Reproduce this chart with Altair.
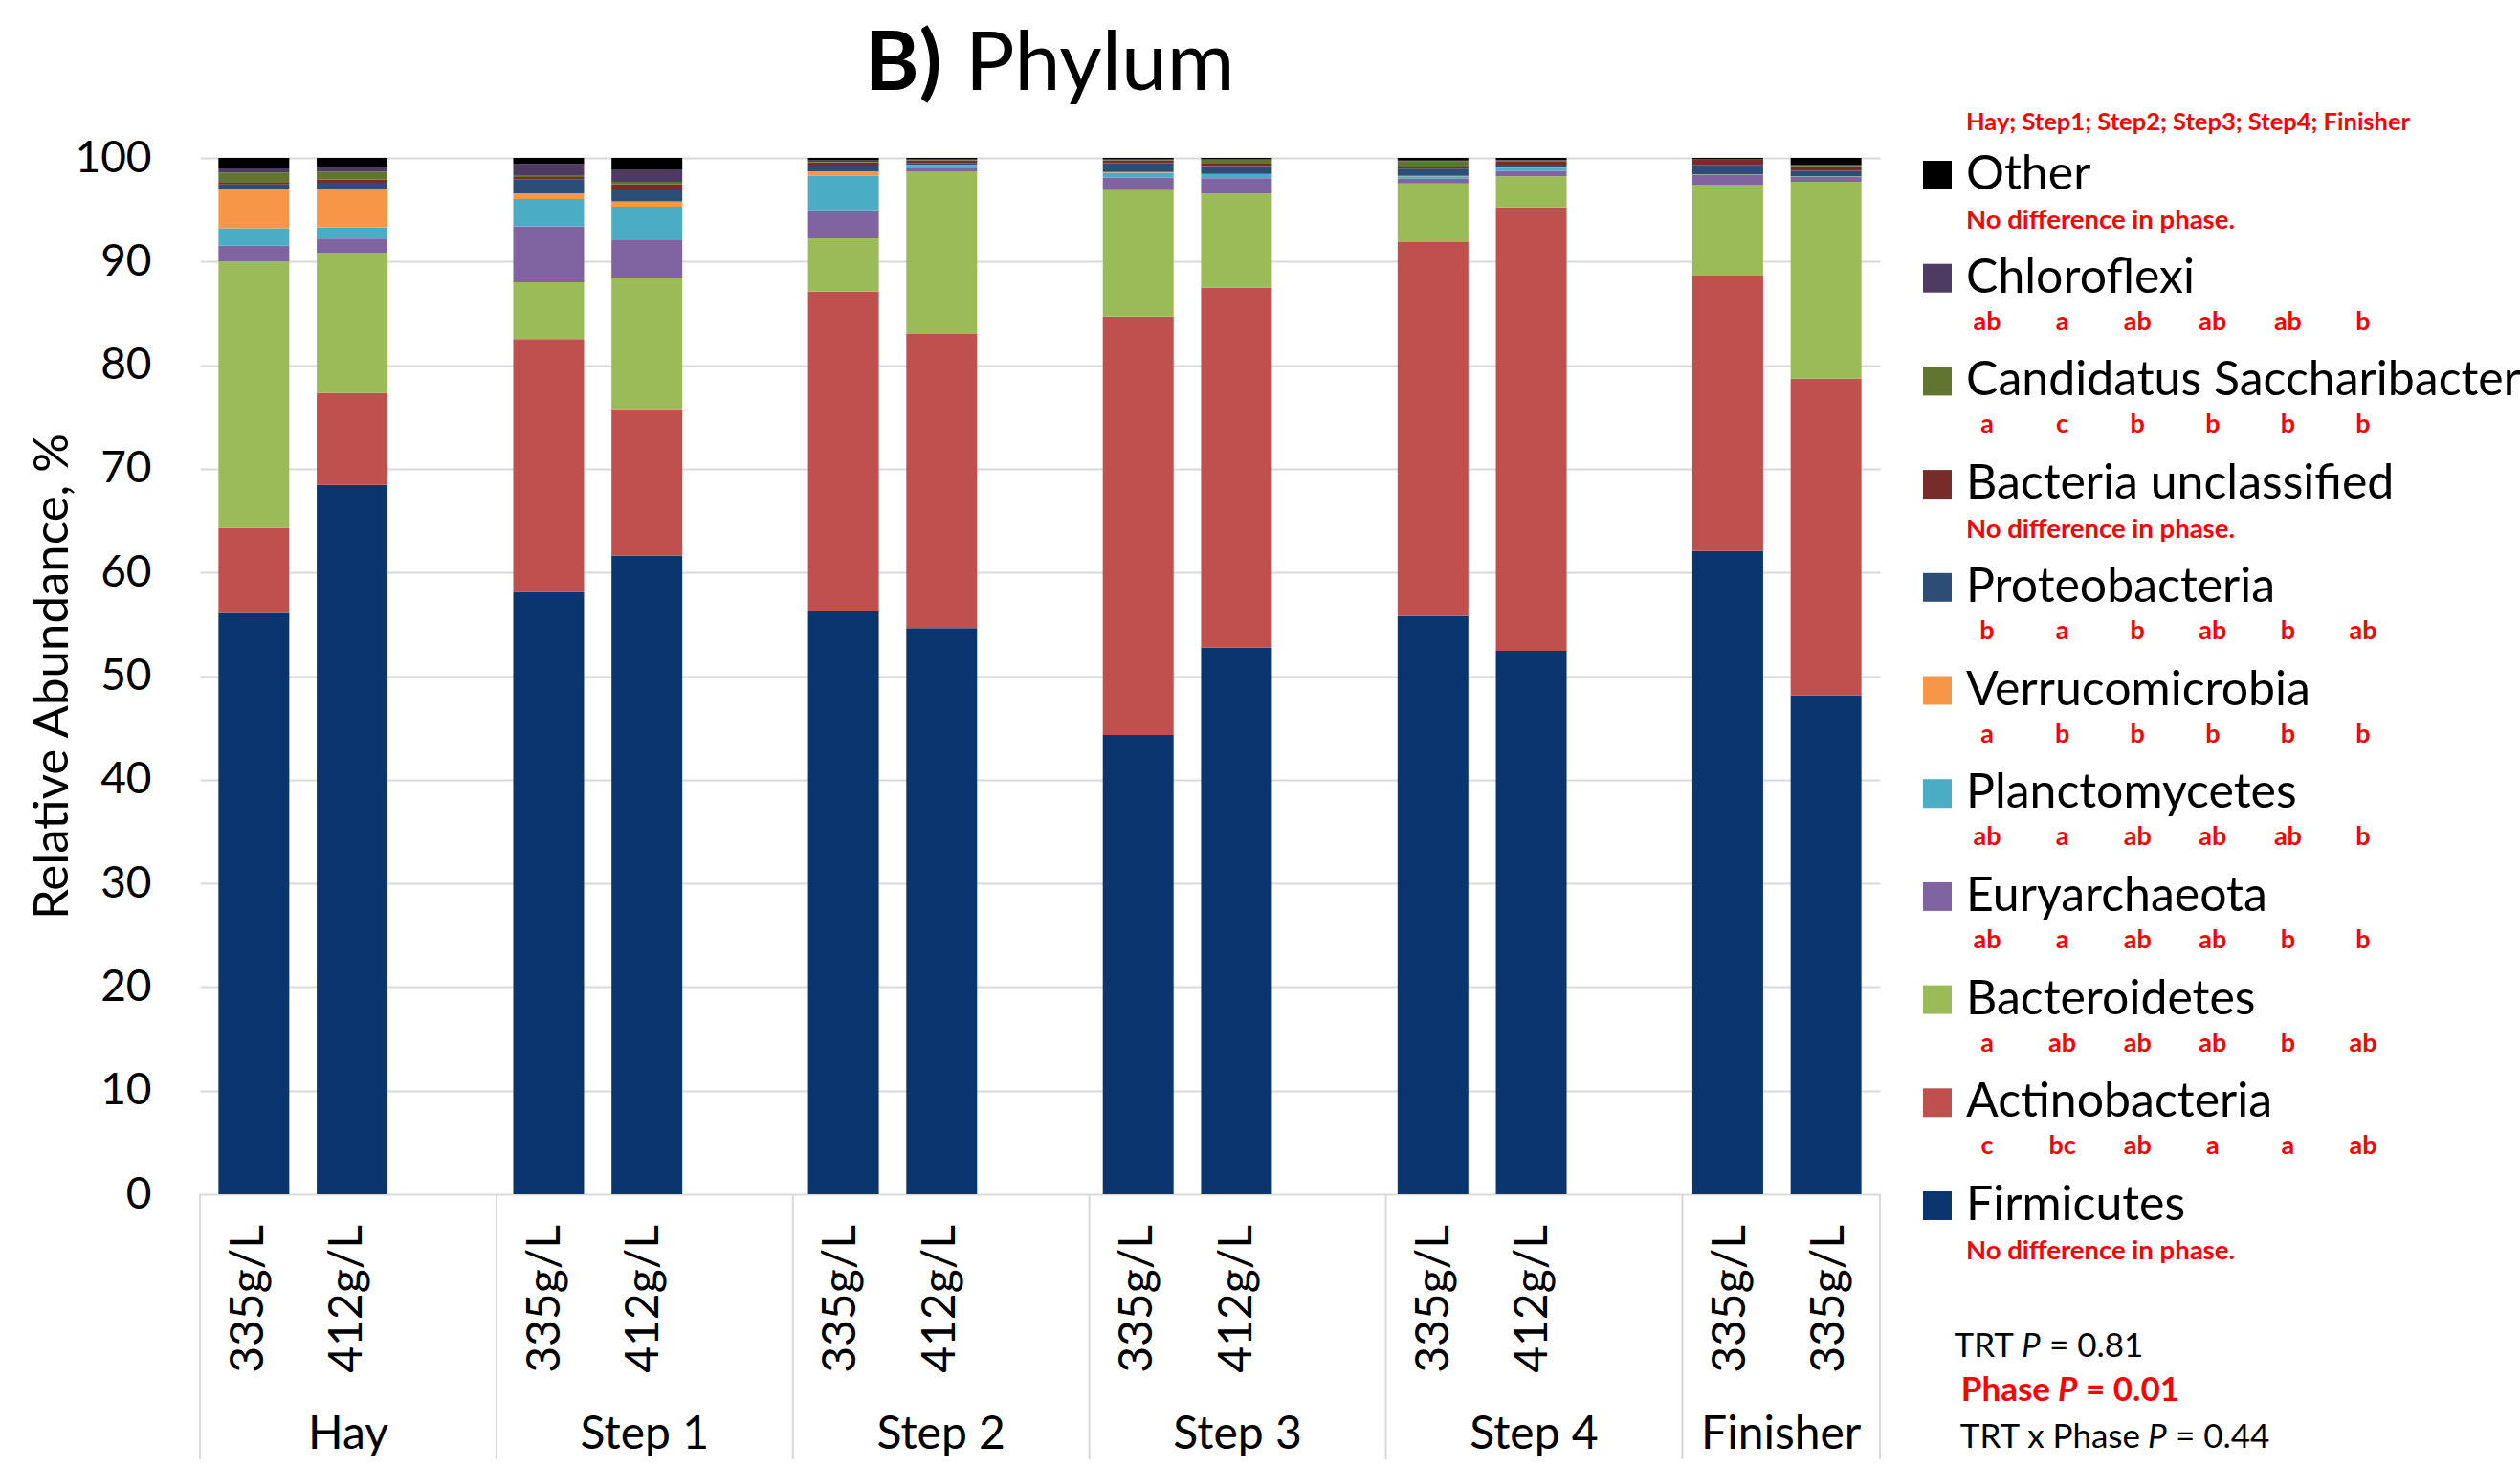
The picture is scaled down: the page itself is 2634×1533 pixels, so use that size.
import altair as alt
import pandas as pd

FONT = "Lato"
RED = "#FF0000"

# ---- data -----------------------------------------------------------------
phases = ["Hay", "Step 1", "Step 2", "Step 3", "Step 4", "Finisher"]
bar_phase = ["Hay", "Hay", "Step 1", "Step 1", "Step 2", "Step 2",
             "Step 3", "Step 3", "Step 4", "Step 4", "Finisher", "Finisher"]
bar_label = ["335g/L", "412g/L", "335g/L", "412g/L", "335g/L", "412g/L",
             "335g/L", "412g/L", "335g/L", "412g/L", "335g/L", "335g/L"]

# stacking order, bottom to top
phyla = ["Firmicutes", "Actinobacteria", "Bacteroidetes", "Euryarchaeota",
         "Planctomycetes", "Verrucomicrobia", "Proteobacteria",
         "Bacteria unclassified", "Candidatus Saccharibacteria",
         "Chloroflexi", "Other"]
phylum_colors = ["#0B356F", "#C0504D", "#9BBB59", "#8064A2", "#4BACC6",
                 "#F79646", "#2C4D75", "#772C2A", "#5F7530", "#4D3B62",
                 "#000000"]

firmicutes = [56.10, 68.45, 58.13, 61.60, 56.25, 54.63, 44.31, 52.76, 55.80, 52.44, 62.08, 48.16]
actinobacteria = [8.18, 8.85, 24.39, 14.15, 30.85, 28.37, 40.39, 34.74, 36.07, 42.79, 26.56, 30.54]
bacteroidetes = [25.74, 13.55, 5.48, 12.62, 5.14, 15.65, 12.19, 9.05, 5.67, 3.00, 8.77, 18.99]
euryarchaeota = [1.50, 1.38, 5.39, 3.69, 2.71, 0.34, 1.20, 1.48, 0.46, 0.52, 0.95, 0.46]
planctomycetes = [1.70, 1.08, 2.65, 3.23, 3.32, 0.28, 0.49, 0.40, 0.22, 0.25, 0.03, 0.05]
verrucomicrobia = [3.82, 3.72, 0.55, 0.52, 0.43, 0.05, 0.05, 0.02, 0.05, 0.05, 0.02, 0.03]
proteobacteria = [0.40, 0.58, 1.35, 1.20, 0.55, 0.20, 0.86, 0.77, 0.68, 0.31, 0.92, 0.52]
bacteria_unclassified = [0.15, 0.28, 0.22, 0.43, 0.34, 0.25, 0.28, 0.22, 0.22, 0.34, 0.50, 0.46]
candidatus_saccharibacteria = [1.00, 0.77, 0.12, 0.25, 0.05, 0.05, 0.05, 0.40, 0.52, 0.05, 0.02, 0.05]
chloroflexi = [0.40, 0.50, 1.11, 1.20, 0.12, 0.05, 0.05, 0.02, 0.05, 0.05, 0.02, 0.05]
other = [1.01, 0.84, 0.61, 1.11, 0.24, 0.13, 0.13, 0.14, 0.26, 0.20, 0.13, 0.69]

abundance = [firmicutes, actinobacteria, bacteroidetes, euryarchaeota,
             planctomycetes, verrucomicrobia, proteobacteria,
             bacteria_unclassified, candidatus_saccharibacteria,
             chloroflexi, other]

# significance letters per phase (Hay; Step1; Step2; Step3; Step4; Finisher)
letters = {
    "Chloroflexi": ["ab", "a", "ab", "ab", "ab", "b"],
    "Candidatus Saccharibacteria": ["a", "c", "b", "b", "b", "b"],
    "Proteobacteria": ["b", "a", "b", "ab", "b", "ab"],
    "Verrucomicrobia": ["a", "b", "b", "b", "b", "b"],
    "Planctomycetes": ["ab", "a", "ab", "ab", "ab", "b"],
    "Euryarchaeota": ["ab", "a", "ab", "ab", "b", "b"],
    "Bacteroidetes": ["a", "ab", "ab", "ab", "b", "ab"],
    "Actinobacteria": ["c", "bc", "ab", "a", "a", "ab"],
}
no_diff = ["Other", "Bacteria unclassified", "Firmicutes"]
no_diff_text = "No difference in phase."
letters_header = "Hay; Step1; Step2; Step3; Step4; Finisher"

stats_prefix = ["TRT", "Phase", "TRT x Phase"]
stats_value = ["= 0.81", "= 0.01", "= 0.44"]

# ---- layout ---------------------------------------------------------------
W, H = 1756, 1083
PAD = {"left": 209, "top": 165, "right": 669, "bottom": 277}
BOTTOM = H + PAD["bottom"]

# each phase takes three slots (two bars and a gap); the last has no gap
n_slots = 3 * len(phases) - 1
phase_idx = {p: i for i, p in enumerate(phases)}
slot_of_bar = []
seen = {}
for p in bar_phase:
    k = seen.get(p, 0)
    seen[p] = k + 1
    slot_of_bar.append(3 * phase_idx[p] + k + 0.5)

rows = []
for rank, (name, vals) in enumerate(zip(phyla, abundance)):
    for b, v in enumerate(vals):
        rows.append({"slot": slot_of_bar[b], "phylum": name, "rank": rank, "value": v})
bars_df = pd.DataFrame(rows)

slot_df = pd.DataFrame({"slot": slot_of_bar, "label": bar_label})
bounds_df = pd.DataFrame({"pos": [3 * i for i in range(len(phases))] + [n_slots]})
group_df = pd.DataFrame({
    "phase": phases,
    "pos": [3 * i + (1.5 if i < len(phases) - 1 else 1.0) for i in range(len(phases))],
})

legend_order = phyla[::-1]
legend_df = pd.DataFrame({"phylum": legend_order, "row": list(range(len(legend_order)))})
letter_rows = []
for r, name in enumerate(legend_order):
    for j, l in enumerate(letters.get(name, [])):
        letter_rows.append({"row": r, "col": j, "letter": l})
letters_df = pd.DataFrame(letter_rows)
notes_df = pd.DataFrame({"row": [legend_order.index(n) for n in no_diff],
                         "note": [no_diff_text] * len(no_diff)})

xs = alt.Scale(domain=[0, n_slots], nice=False, zero=False)
ys_legend = alt.Scale(domain=[0, len(legend_order) - 1], range=[18, 1095], nice=False, zero=False)
color = alt.Color("phylum:N", scale=alt.Scale(domain=phyla, range=phylum_colors), legend=None)

bars = alt.Chart(bars_df).mark_bar(width=74, orient="vertical").encode(
    x=alt.X("slot:Q", scale=xs, axis=None),
    y=alt.Y("value:Q", stack="zero",
            scale=alt.Scale(domain=[0, 100], nice=False),
            axis=alt.Axis(values=list(range(0, 101, 10)), grid=True,
                          gridColor="#d9d9d9", gridWidth=2, domain=False,
                          ticks=False, labelFont=FONT, labelFontSize=46,
                          labelColor="#000000", labelPadding=51,
                          title="Relative Abundance, %", titleFont=FONT,
                          titleFontSize=51, titleFontWeight="normal",
                          titleColor="#000000", titleX=-154, titleY=H / 2,
                          titleAngle=270, titleAlign="center",
                          titleBaseline="middle")),
    color=color,
    order=alt.Order("rank:Q", sort="ascending"),
)

dividers = alt.Chart(bounds_df).mark_rule(color="#d9d9d9", strokeWidth=2).encode(
    x=alt.X("pos:Q", scale=xs, axis=None),
    y=alt.value(H),
    y2=alt.value(BOTTOM),
)

slot_text = alt.Chart(slot_df).mark_text(
    angle=270, align="right", baseline="middle", font=FONT, fontSize=48, color="#000000"
).encode(x=alt.X("slot:Q", scale=xs, axis=None), y=alt.value(H + 32), text="label:N")

group_text = alt.Chart(group_df).mark_text(
    align="center", baseline="middle", font=FONT, fontSize=48, color="#000000"
).encode(x=alt.X("pos:Q", scale=xs, axis=None), y=alt.value(H + 252), text="phase:N")

title_b = alt.Chart(pd.DataFrame({"t": ["B)"]})).mark_text(
    align="left", baseline="alphabetic", font=FONT, fontSize=86, fontWeight="bold", color="#000000"
).encode(x=alt.value(695), y=alt.value(-71), text="t:N")
title_p = alt.Chart(pd.DataFrame({"t": ["Phylum"]})).mark_text(
    align="left", baseline="alphabetic", font=FONT, fontSize=86, color="#000000"
).encode(x=alt.value(800), y=alt.value(-71), text="t:N")

LX = 1816  # legend swatch centre
squares = alt.Chart(legend_df).mark_square(size=900, opacity=1, strokeWidth=0).encode(
    x=alt.value(LX), y=alt.Y("row:Q", scale=ys_legend, axis=None), color=color)
names = alt.Chart(legend_df).mark_text(
    align="left", baseline="middle", font=FONT, fontSize=50, color="#000000"
).encode(x=alt.value(LX + 30), y=alt.Y("row:Q", scale=ys_legend, axis=None), text="phylum:N")
letter_marks = alt.Chart(letters_df).mark_text(
    align="center", baseline="middle", font=FONT, fontSize=27, fontWeight="bold", color=RED, dy=46
).encode(
    x=alt.X("col:Q", scale=alt.Scale(domain=[0, 5], range=[LX + 52, LX + 445], nice=False, zero=False), axis=None),
    y=alt.Y("row:Q", scale=ys_legend, axis=None),
    text="letter:N",
)
note_marks = alt.Chart(notes_df).mark_text(
    align="left", baseline="middle", font=FONT, fontSize=27.5, fontWeight="bold", color=RED, dy=48
).encode(x=alt.value(LX + 30), y=alt.Y("row:Q", scale=ys_legend, axis=None), text="note:N")
header = alt.Chart(pd.DataFrame({"t": [letters_header]})).mark_text(
    align="left", baseline="middle", font=FONT, fontSize=25.5, fontWeight="bold", color=RED
).encode(x=alt.value(LX + 30), y=alt.value(-37), text="t:N")

# P-value lines: prefix, italic P, value
stat_layers = []
p_left = [1904, 1942, 2036]
line_y = [1242, 1288, 1337]
for i, (pre, val) in enumerate(zip(stats_prefix, stats_value)):
    bold = i == 1
    col = RED if bold else "#000000"
    weight = "bold" if bold else "normal"
    df = pd.DataFrame({"pre": [pre], "p": ["P"], "val": [val]})
    base = alt.Chart(df)
    stat_layers += [
        base.mark_text(align="right", baseline="middle", font=FONT, fontSize=35,
                       fontWeight=weight, color=col)
            .encode(x=alt.value(p_left[i] - 8), y=alt.value(line_y[i]), text="pre:N"),
        base.mark_text(align="left", baseline="middle", font=FONT, fontSize=35,
                       fontWeight=weight, fontStyle="italic", color=col)
            .encode(x=alt.value(p_left[i]), y=alt.value(line_y[i]), text="p:N"),
        base.mark_text(align="left", baseline="middle", font=FONT, fontSize=35,
                       fontWeight=weight, color=col)
            .encode(x=alt.value(p_left[i] + 29), y=alt.value(line_y[i]), text="val:N"),
    ]

chart = alt.layer(
    bars, dividers, slot_text, group_text, title_b, title_p,
    squares, names, letter_marks, note_marks, header, *stat_layers,
).resolve_scale(
    x="independent", y="independent"
).properties(
    width=W, height=H, padding=PAD,
    autosize=alt.AutoSizeParams(type="none"),
    background="white",
).configure_view(stroke=None)

chart.save("out.html", embed_options={"renderer": "svg", "actions": False})
